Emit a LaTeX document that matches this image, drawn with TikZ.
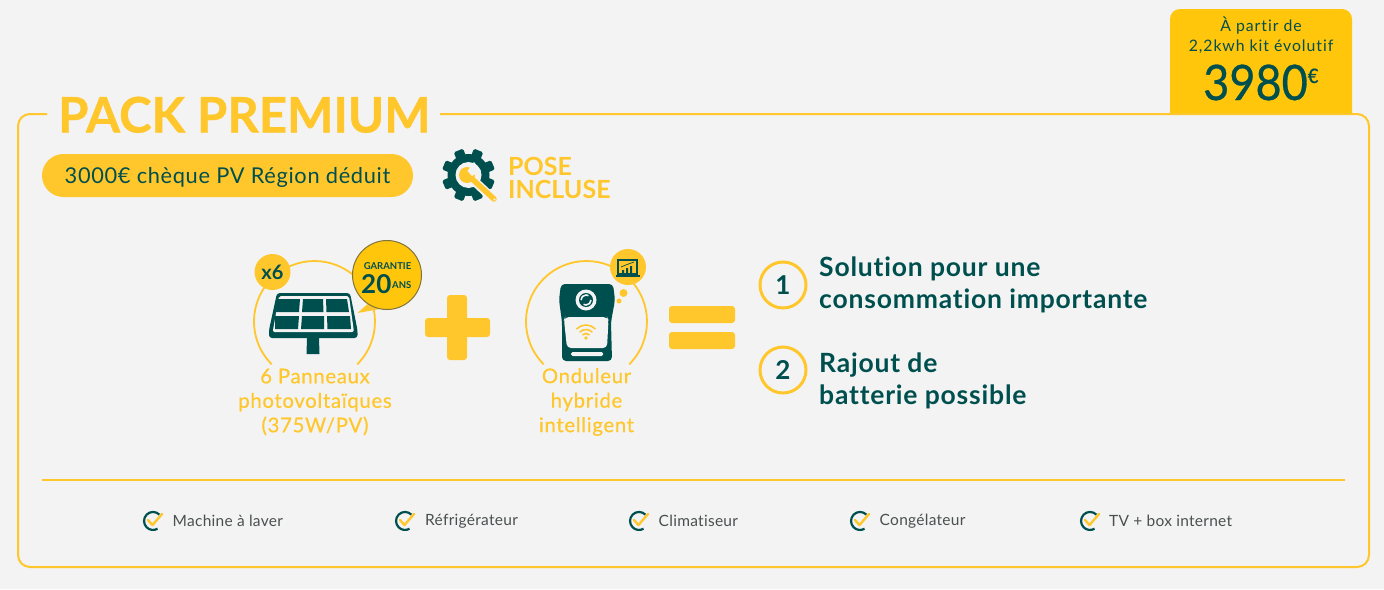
\documentclass[tikz,border=0pt]{standalone}
\usepackage{fontspec}
\setmainfont{Lato}
\newfontfamily\spc[LetterSpace=3,Ligatures=NoCommon]{Lato}
\newfontfamily\lblf[LetterSpace=3.5,FakeBold=0.5,Ligatures=NoCommon]{Lato}
\newfontfamily\tabf[LetterSpace=6,Ligatures=NoCommon]{Lato}
\newfontfamily\bigf[LetterSpace=3,Ligatures=NoCommon]{Lato Bold}
\newfontfamily\itemf[LetterSpace=1.8,Ligatures=NoCommon]{Lato}
\newfontfamily\pricef[FakeStretch=0.92,FakeBold=0.6]{Lato}
\newfontfamily\titlef[FakeBold=0.8]{Lato Bold}
\usetikzlibrary{calc}
\definecolor{bgc}{HTML}{F3F3F3}
\definecolor{teal}{HTML}{004F4F}
\definecolor{yel}{HTML}{FFC72C}
\definecolor{gold}{HTML}{FFC60B}
\definecolor{gry}{HTML}{4A4F50}
\tikzset{
  yfill/.style={fill=yel,draw=none},
  tfill/.style={fill=teal,draw=none},
  yline/.style={draw=yel,line width=2pt},
  arcline/.style={draw=yel,line width=1.8pt},
  lbl/.style={text=yel,font=\fontsize{20.3}{24.5}\selectfont\lblf,align=center,inner sep=0pt},
  big/.style={text=teal,font=\fontsize{26.5}{32}\selectfont\bigf,align=left,anchor=west,inner sep=0pt},
  numc/.style={circle,draw=yel,line width=3pt,minimum size=46pt,inner sep=0pt,fill=bgc,text=teal,font=\fontsize{26}{26}\selectfont\bfseries},
  item/.style={text=gry,font=\fontsize{15.5}{18}\selectfont\itemf,anchor=west,inner sep=0pt},
}
\newcommand{\chk}[1]{%
  \begin{scope}[shift={(#1)}]
    \draw[teal,line width=2.2pt] (6.4,-6.4) arc (-45:-300:9);
    \draw[yel,line width=2.4pt,line cap=round,line join=round] (-5,-1) -- (-0.5,4) -- (9,-7);
  \end{scope}}
\begin{document}
\begin{tikzpicture}[x=1pt,y=-1pt]
\useasboundingbox (0,0) rectangle (1384,589);
\fill[bgc] (0,0) rectangle (1384,589);
% price tab
\fill[gold,rounded corners=10pt] (1170,9) -- (1352,9) -- (1352,125) -- (1170,125) -- cycle;
\fill[bgc] (1160,114) rectangle (1360,130);
\node[text=teal,font=\fontsize{15.8}{19.5}\selectfont\tabf,align=center,inner sep=0pt] (tabtxt) at (1261,35.5) {À partir de\\2,2kwh kit évolutif};
\node[text=teal,font=\fontsize{49}{49}\selectfont\pricef,inner sep=0pt,anchor=base west] (price) at (1203,100) {3980\raisebox{17pt}{\fontsize{20}{20}\selectfont €}};
% frame
\draw[yline] (47,114) -- (30,114) arc (270:180:12) -- (18,555) arc (180:90:12) -- (1357,567) arc (90:0:12) -- (1369,126) arc (0:-90:12) -- (440,114);
\node[text=yel,font=\fontsize{49}{50}\selectfont\titlef,inner sep=0pt,anchor=base west] (title) at (58,132.5) {PACK PREMIUM};
% pill
\node[fill=yel,rounded corners=21.5pt,minimum width=371pt,minimum height=43pt,inner sep=0pt] (pill) at (227.5,175.5) {};
\node[text=teal,font=\fontsize{21.8}{24}\selectfont\spc,inner sep=0pt] (pilltxt) at (227.5,177) {3000€ chèque PV Région déduit};
% gear
\begin{scope}[shift={(468.5,175)}]
  \fill[teal] (0,0) circle (21);
  \foreach \a in {0,45,...,315}{\fill[teal,rotate=\a+22.5,rounded corners=1.5pt] (-5,-26.5) rectangle (5,-16);}
  \fill[bgc] (0,0) circle (13);
\end{scope}
\draw[bgc,line width=9pt] (472,179) -- (488,194);
\draw[yel,line width=5.5pt,line cap=round] (470,177) -- (494,199);
\fill[yel] (467,175) circle (8);
\fill[bgc] (474,162) -- (467.5,171) -- (472,176) -- (481,171) -- cycle;
\fill[bgc] (494.5,199.5) circle (1.2);
\node[text=yel,font=\fontsize{25}{23.5}\selectfont\bfseries,align=left,anchor=north west,inner sep=0pt] (pose) at (508,157) {POSE\\INCLUSE};
% left arc
\coordinate (sc) at (314.5,321.5);
\draw[arcline] ($(sc)+(-42.8,42.8)$) arc (135:405:60.5);
\fill[tfill,rounded corners=3pt] (277,293) -- (350,293) -- (357.5,330) -- (357.5,338) -- (269,338) -- (269,330) -- cycle;
\fill[tfill] (307,338) -- (319,338) -- (319.5,354) -- (306.5,354) -- cycle;
\fill[bgc,rounded corners=2pt] (279,296) -- (349,296) -- (354,332) -- (272.7,332) -- cycle;
\fill[teal] (277,299) -- (300,299) -- (299,312) -- (275.5,312) -- cycle;
\fill[teal] (303,299) -- (323,299) -- (323.5,312) -- (302,312) -- cycle;
\fill[teal] (326,299) -- (347,299) -- (349,312) -- (326.5,312) -- cycle;
\fill[teal] (275,316) -- (299,316) -- (298,329) -- (275,329) -- cycle;
\fill[teal] (302,316) -- (324,316) -- (324,329) -- (301,329) -- cycle;
\fill[teal] (327,316) -- (350,316) -- (351,329) -- (327.5,329) -- cycle;
% x6 bubble
\node[circle,fill=yel,minimum size=36pt,inner sep=0pt,text=teal,font=\fontsize{20}{20}\selectfont\bfseries] (xsix) at (272.5,272) {x6};
% garantie
\fill[yel] (372,300) -- (357.5,313) -- (380,309) -- cycle;
\node[circle,fill=gold,draw=gry!70!gold,line width=1pt,minimum size=69pt,inner sep=0pt] (gar) at (387,275) {};
\node[text=teal,font=\fontsize{9.5}{10}\selectfont\bfseries,inner sep=0pt] (gar1) at (387.5,266.5) {GARANTIE};
\node[text=teal,font=\fontsize{26}{26}\selectfont\bfseries,inner sep=0pt,anchor=base west] (gar2) at (361,293.5) {20};
\node[text=teal,font=\fontsize{9.5}{10}\selectfont\bfseries,inner sep=0pt,anchor=base west] (gar3) at (392,288) {ANS};
\node[lbl] (l1) at (315,402) {6 Panneaux\\photovoltaïques\\(375W/PV)};
% plus, equals
\fill[yfill,rounded corners=3pt] (425,318) rectangle (490,337);
\fill[yfill,rounded corners=3pt] (447,295) rectangle (467,360);
\fill[yfill,rounded corners=3pt] (669,306) rectangle (735,323);
\fill[yfill,rounded corners=3pt] (669,332) rectangle (735,349);
% right arc
\coordinate (oc) at (586.5,321.5);
\draw[arcline] ($(oc)+(-42.8,42.8)$) arc (135:405:60.5);
\fill[tfill,rounded corners=4pt] (561,284) -- (613,284) -- (615,300) -- (611,322) -- (612,361) -- (562,361) -- (562,322) -- (559,300) -- cycle;
\fill[bgc,rounded corners=4pt] (565,317) -- (607,317) -- (608.5,320) -- (607,348) -- (567,348) -- (564,320) -- cycle;
\fill[bgc,rounded corners=1.5pt] (571,352) rectangle (603,356);
\fill[bgc] (586,300) circle (10.5);
\fill[teal] (586,300) circle (7);
\draw[bgc,line width=1.6pt] (581,300) arc (180:300:5);
\draw[bgc,line width=1.6pt] (591,300) arc (0:120:5);
\draw[yel,line width=1.6pt,line cap=round] ($(586,338)+(-9.2,-9.2)$) arc (225:315:13);
\draw[yel,line width=1.6pt,line cap=round] ($(586,338)+(-6,-6)$) arc (225:315:8.5);
\draw[yel,line width=1.6pt,line cap=round] ($(586,338)+(-3.2,-3.2)$) arc (225:315:4.5);
\fill[yel] (586,338) circle (1.8);
\fill[yel] (623.5,293) circle (4);
\fill[yel] (619,301) circle (2.5);
\node[circle,fill=yel,minimum size=36pt,inner sep=0pt] (lap) at (628,267) {};
\draw[teal,line width=1.1pt] (618,260) rectangle (637,274);
\fill[teal] (616,275) rectangle (640,276.5);
\fill[teal] (622,270) rectangle (624,273) (626,268) rectangle (628,273) (630,266) rectangle (632,273);
\draw[teal,line width=.7pt] (621,267) -- (627,264.5) -- (634,262);
\node[lbl] (l2) at (586.5,402) {Onduleur\\hybride\\intelligent};
% numbered
\node[numc] (n1) at (783,285) {1};
\node[numc] (n2) at (783,370) {2};
\node[big] (t1) at (819,285) {Solution pour une\\consommation importante};
\node[big] (t2) at (819,381) {Rajout de\\batterie possible};
% rule
\coordinate (ra) at (42,480);
\coordinate (rb) at (1345,480);
\draw[draw=yel,line width=1.2pt] (ra) -- (rb);
% items
\chk{153,521}\node[item] (i1) at (172.5,521) {Machine à laver};
\chk{405,521}\node[item] (i2) at (425,521) {Réfrigérateur};
\chk{639,521}\node[item] (i3) at (658.5,521) {Climatiseur};
\chk{860,521}\node[item] (i4) at (879.5,521) {Congélateur};
\chk{1090,521}\node[item] (i5) at (1109,521) {TV + box internet};
\end{tikzpicture}
\end{document}
